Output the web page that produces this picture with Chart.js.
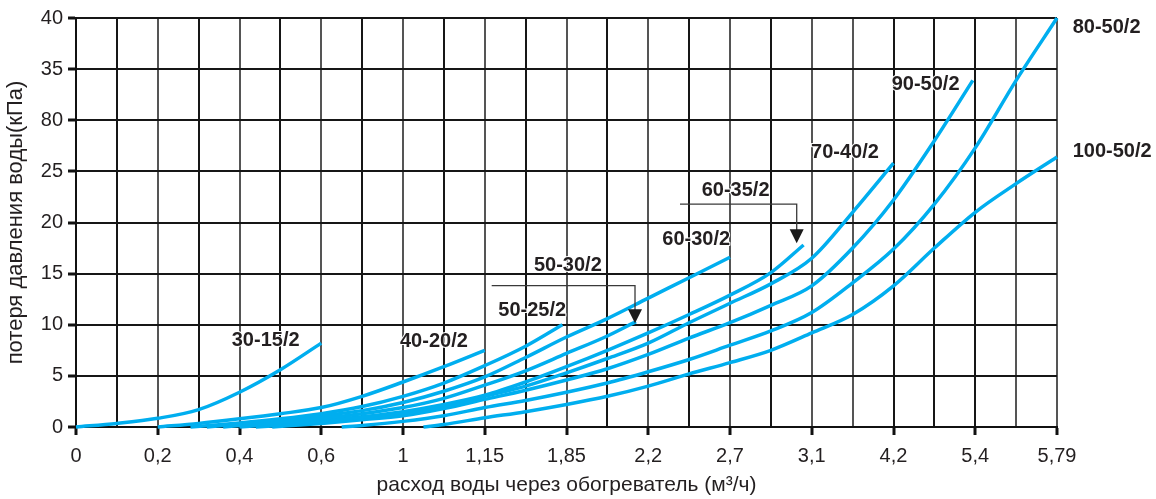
<!DOCTYPE html>
<html>
<head>
<meta charset="utf-8">
<script src="https://cdn.jsdelivr.net/npm/chart.js@4.4.1/dist/chart.umd.min.js"></script>
<style>
  html, body { margin: 0; padding: 0; background: #ffffff; }
  #wrap { width: 1156px; height: 499px; }
</style>
</head>
<body>
<div id="wrap"><canvas id="c" width="1156" height="499"></canvas></div>
<script>
// ---------- DATA ----------
// x tick labels (flow, m3/h) placed at evenly spaced positions 0..12
const xTickLabels = ['0', '0,2', '0,4', '0,6', '1', '1,15', '1,85', '2,2', '2,7', '3,1', '4,2', '5,4', '5,79'];
// y tick labels as printed on the original (note the "80")
const yTickLabels = ['0', '5', '10', '15', '20', '25', '80', '35', '40'];

const seriesNames = ['30-15/2', '40-20/2', '50-25/2', '50-30/2', '60-30/2', '60-35/2', '70-40/2', '90-50/2', '80-50/2', '100-50/2'];

// positions along the x axis (tick index units) and pressure loss values (kPa)
const pos_30_15  = [0, 0.5, 1, 1.5, 2, 2.5, 3];
const loss_30_15 = [0, 0.35, 0.85, 1.7, 3.4, 5.6, 8.2];

const pos_40_20  = [1, 1.5, 2, 2.5, 3, 3.5, 4, 4.5, 5];
const loss_40_20 = [0, 0.35, 0.8, 1.3, 1.9, 3.0, 4.4, 5.9, 7.5];

const pos_50_25  = [1.4, 2, 2.5, 3, 3.5, 4, 4.5, 5, 5.5, 5.95];
const loss_50_25 = [0, 0.4, 0.8, 1.3, 2.0, 3.0, 4.3, 6.0, 7.9, 10.0];

const pos_50_30  = [1.8, 2, 2.5, 3, 3.5, 4, 4.5, 5, 5.5, 6, 6.5, 6.85];
const loss_50_30 = [0, 0.15, 0.45, 0.85, 1.3, 1.9, 2.8, 4.1, 5.5, 7.2, 8.9, 10.3];

const pos_60_30  = [1.6, 2, 2.5, 3, 3.5, 4, 4.5, 5, 5.5, 6, 6.5, 7, 7.5, 8];
const loss_60_30 = [0, 0.3, 0.65, 1.1, 1.6, 2.4, 3.5, 4.9, 6.8, 8.8, 10.6, 12.6, 14.6, 16.6];

const pos_60_35  = [2, 2.5, 3, 3.5, 4, 4.5, 5, 5.5, 6, 6.5, 7, 7.5, 8, 8.5, 8.9];
const loss_60_35 = [0, 0.3, 0.6, 1.0, 1.5, 2.2, 3.1, 4.4, 5.9, 7.5, 9.2, 11.0, 12.9, 15.1, 17.8];

const pos_70_40  = [2.2, 2.5, 3, 3.5, 4, 4.5, 5, 5.5, 6, 6.5, 7, 7.5, 8, 8.5, 9, 9.5, 10];
const loss_70_40 = [0, 0.15, 0.45, 0.8, 1.3, 2.0, 3.0, 4.0, 5.3, 6.7, 8.2, 10.2, 12.1, 14.0, 16.5, 21.0, 25.8];

const pos_90_50  = [2.4, 3, 3.5, 4, 4.5, 5, 5.5, 6, 6.5, 7, 7.5, 8, 8.5, 9, 9.5, 10, 10.5, 10.97];
const loss_90_50 = [0, 0.35, 0.7, 1.1, 1.8, 2.7, 3.6, 4.6, 5.7, 7.1, 8.7, 10.2, 11.9, 13.8, 17.5, 22.2, 28.0, 33.9];

const pos_80_50  = [3.25, 3.5, 4, 4.5, 5, 5.5, 6, 6.5, 7, 7.5, 8, 8.5, 9, 9.5, 10, 10.5, 11, 11.5, 12];
const loss_80_50 = [0, 0.15, 0.55, 1.1, 1.9, 2.6, 3.4, 4.3, 5.4, 6.6, 8.0, 9.4, 11.2, 14.1, 17.4, 21.8, 27.3, 33.9, 40];

const pos_100_50  = [4.25, 4.5, 5, 5.5, 6, 6.5, 7, 7.5, 8, 8.5, 9, 9.5, 10, 10.5, 11, 11.5, 12];
const loss_100_50 = [0, 0.25, 0.9, 1.5, 2.2, 3.0, 4.0, 5.2, 6.3, 7.5, 9.2, 11.0, 13.8, 17.5, 21.0, 23.8, 26.4];

const seriesPos  = [pos_30_15, pos_40_20, pos_50_25, pos_50_30, pos_60_30, pos_60_35, pos_70_40, pos_90_50, pos_80_50, pos_100_50];
const seriesLoss = [loss_30_15, loss_40_20, loss_50_25, loss_50_30, loss_60_30, loss_60_35, loss_70_40, loss_90_50, loss_80_50, loss_100_50];

// ---------- LABEL / ARROW PLACEMENT (axis units) ----------
const labelAnchors = [
  [1.905, 8.44], [3.963, 8.41], [5.166, 11.4], [5.602, 15.78], [7.172, 18.33],
  [7.654, 23.16], [8.991, 26.88], [9.978, 33.49], [12.192, 39.09], [12.192, 26.91]
];
// leader arrows: [xStart, xEnd, yLine, yTip]
const arrows = [
  [5.085, 6.838, 13.83, 10.15],
  [7.388, 8.816, 21.79, 17.97]
];

// ---------- STYLE ----------
const LINE_BLUE = '#00aeef';
const TEXT_COL = '#231f20';
const FONT = '"Liberation Sans", Arial, Helvetica, sans-serif';
const grayX = [1, 2, 3, 4, 5, 6, 7, 8, 9, 9.5, 11.5, 12];

Chart.defaults.font.family = FONT;
Chart.defaults.color = TEXT_COL;

const datasets = seriesNames.map((name, i) => ({
  label: name,
  data: seriesPos[i].map((p, j) => ({ x: p, y: seriesLoss[i][j] })),
  borderColor: LINE_BLUE,
  backgroundColor: LINE_BLUE,
  borderWidth: 3.5,
  pointRadius: 0,
  pointHoverRadius: 0,
  fill: false,
  cubicInterpolationMode: 'monotone',
  borderCapStyle: 'butt',
  clip: 4
}));

const annotate = {
  id: 'annotate',
  afterDatasetsDraw(chart) {
    const { ctx, scales: { x, y } } = chart;
    ctx.save();
    // arrows
    ctx.strokeStyle = '#3a3a3a';
    ctx.fillStyle = '#1a1a1a';
    ctx.lineWidth = 1.3;
    arrows.forEach(([x0, x1, yl, yt]) => {
      const px0 = x.getPixelForValue(x0), px1 = x.getPixelForValue(x1);
      const py = y.getPixelForValue(yl), pt = y.getPixelForValue(yt);
      ctx.beginPath();
      ctx.moveTo(px0, py);
      ctx.lineTo(px1, py);
      ctx.lineTo(px1, pt - 12);
      ctx.stroke();
      ctx.beginPath();
      ctx.moveTo(px1 - 7, pt - 14);
      ctx.lineTo(px1 + 7, pt - 14);
      ctx.lineTo(px1, pt);
      ctx.closePath();
      ctx.fill();
    });
    // series labels
    ctx.font = 'bold 20px ' + FONT;
    ctx.textAlign = 'left';
    ctx.textBaseline = 'middle';
    ctx.lineJoin = 'round';
    seriesNames.forEach((name, i) => {
      const px = x.getPixelForValue(labelAnchors[i][0]);
      const py = y.getPixelForValue(labelAnchors[i][1]);
      ctx.strokeStyle = '#ffffff';
      ctx.lineWidth = 2;
      ctx.strokeText(name, px, py);
      ctx.fillStyle = TEXT_COL;
      ctx.fillText(name, px, py);
    });
    ctx.restore();
  }
};

new Chart(document.getElementById('c'), {
  type: 'line',
  data: { datasets },
  options: {
    responsive: false,
    animation: false,
    devicePixelRatio: 1,
    layout: { padding: { top: 18, right: 99, left: 0, bottom: 0 } },
    plugins: { legend: { display: false }, tooltip: { enabled: false } },
    scales: {
      x: {
        type: 'linear',
        min: 0, max: 12,
        afterFit: (s) => { s.height = 72; },
        ticks: {
          stepSize: 0.5,
          maxTicksLimit: 100,
          autoSkip: false,
          maxRotation: 0,
          padding: 9,
          color: TEXT_COL,
          font: { size: 20 },
          callback: (v) => Number.isInteger(v) ? xTickLabels[v] : ''
        },
        grid: {
          color: (c) => grayX.includes(c.tick && c.tick.value) ? '#555555' : '#161616',
          lineWidth: 2,
          drawTicks: true,
          tickLength: 8,
          tickWidth: 3,
          tickColor: (c) => (c.tick && Number.isInteger(c.tick.value)) ? '#111111' : 'rgba(0,0,0,0)'
        },
        border: { display: true, color: '#111111', width: 2 },
        title: {
          display: true,
          text: 'расход воды через обогреватель (м³/ч)',
          color: TEXT_COL,
          font: { size: 21 },
          padding: { top: 0, bottom: 1 }
        }
      },
      y: {
        min: 0, max: 40,
        afterFit: (s) => { s.width = 76; },
        ticks: {
          stepSize: 5,
          padding: 5,
          color: TEXT_COL,
          font: { size: 20 },
          callback: (v) => yTickLabels[Math.round(v / 5)]
        },
        grid: {
          color: '#161616',
          lineWidth: 2,
          drawTicks: true,
          tickLength: 8,
          tickWidth: 3,
          tickColor: '#111111'
        },
        border: { display: true, color: '#111111', width: 2 },
        title: {
          display: true,
          text: 'потеря давления воды(кПа)',
          color: TEXT_COL,
          font: { size: 22 },
          padding: { top: 3, bottom: 0 }
        }
      }
    }
  },
  plugins: [annotate]
});
</script>
</body>
</html>
